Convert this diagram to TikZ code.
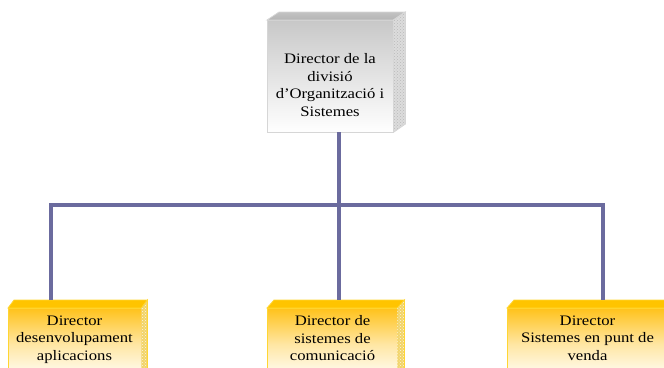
\documentclass[tikz,border=0pt]{standalone}
\usepackage{fontspec}
\setmainfont{Liberation Serif}[FakeStretch=1.15]
\usetikzlibrary{patterns,calc}

\definecolor{linkblue}{HTML}{6B6B9E}
\definecolor{grayTop}{HTML}{B4B4B4}
\definecolor{grayFront}{HTML}{C8C8C8}
\definecolor{grayEdge}{HTML}{D6D6D6}
\definecolor{graySide}{HTML}{DCDCDC}
\definecolor{goldTop}{HTML}{FFC400}
\definecolor{goldFront}{HTML}{FFC21A}
\definecolor{goldEdge}{HTML}{FFD633}
\definecolor{goldSide}{HTML}{F2D469}

\tikzset{
  link/.style={draw=linkblue, line width=4.5pt},
  label/.style={align=center, inner sep=0pt, anchor=north,
    font=\fontsize{14.5}{17.5}\selectfont},
  face/.style={minimum width=#1, minimum height=72pt, inner sep=0pt,
    anchor=north west},
}

\begin{document}
\begin{tikzpicture}[x=1pt, y=-1pt]
  \useasboundingbox (0,0) rectangle (664,367);
  \begin{scope}
    \clip (0,0) rectangle (664,367);

    % ---- top box: front face, top face, textured side
    \node[face=126pt, minimum height=112pt] (dir) at (267,20) {};
    \shade[top color=grayFront, bottom color=white]
      (dir.north west) rectangle (dir.south east);
    \draw[grayEdge, line width=0.8pt] (dir.north west) rectangle (dir.south east);
    \shade[top color=grayTop!80!white, bottom color=grayTop, draw=grayEdge, line width=0.8pt]
      (dir.north west) -- ++(12,-8) -- ++(126,0) -- (dir.north east) -- cycle;
    \fill[graySide] (dir.north east) -- ++(12,-8) -- ++(0,112) -- (dir.south east) -- cycle;
    \fill[pattern=crosshatch dots, pattern color=gray!55]
      (dir.north east) -- ++(12,-8) -- ++(0,112) -- (dir.south east) -- cycle;
    \draw[grayEdge, line width=0.8pt]
      (dir.north east) -- ++(12,-8) -- ++(0,112) -- (dir.south east);
    \node[label] (dirtext) at (330,53.5)
      {Director de la\\divisió\\d’Organització i\\Sistemes};

    % ---- bottom boxes (they run on below the lower edge)
    \node[face=133pt] (b1) at (8,308) {};
    \node[face=130pt] (b2) at (267,308) {};
    \node[face=161pt] (b3) at (507,308) {};
    \foreach \b/\dx in {b1/6, b2/7, b3/7} {
      \shade[top color=goldFront, bottom color=white, middle color=goldFront!40!white]
        (\b.north west) rectangle (\b.south east);
      \draw[goldEdge, line width=0.8pt] (\b.south west) -- (\b.north west) -- (\b.north east);
      \fill[goldTop, draw=goldEdge, line width=0.8pt]
        (\b.north west) -- ++(\dx,-8) -- ($(\b.north east)+(\dx,-8)$) -- (\b.north east) -- cycle;
      \fill[goldSide] (\b.north east) -- ++(\dx,-8) -- ++(0,80) -- (\b.south east) -- cycle;
      \fill[pattern=crosshatch dots, pattern color=white!80!goldSide]
        (\b.north east) -- ++(\dx,-8) -- ++(0,80) -- (\b.south east) -- cycle;
      \draw[goldEdge, line width=0.8pt] (\b.north east) -- ++(\dx,-8) -- ++(0,80);
    }
    \node[label] (t1) at (74.5,315.5) {Director\\desenvolupament\\aplicacions};
    \node[label] (t2) at (332.5,315.5) {Director de\\sistemes de\\comunicació};
    \node[label] (t3) at (587.5,315.5) {Director\\Sistemes en punt de\\venda};

    % ---- connectors
    \coordinate (up) at (339,132);
    \coordinate (busL) at (51,205);
    \coordinate (busR) at (603,205);
    \coordinate (p1) at (51,300);
    \coordinate (p2) at (339,300);
    \coordinate (p3) at (603,300);
    \draw[link] (p1) -- (busL) -- (busR) -- (p3);
    \draw[link] (up) -- (p2);
  \end{scope}
\end{tikzpicture}
\end{document}
